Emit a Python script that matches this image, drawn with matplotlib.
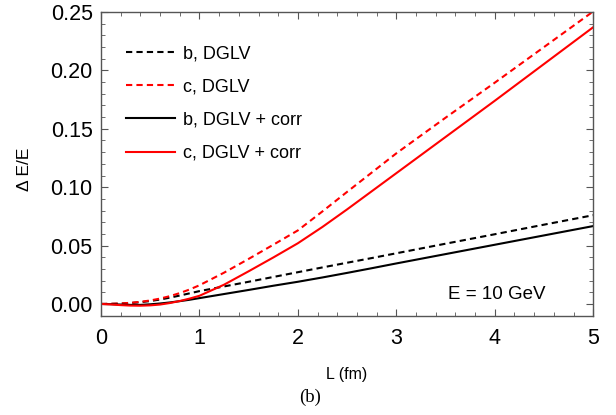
import matplotlib
matplotlib.use("Agg")
import matplotlib.pyplot as plt
from matplotlib.ticker import MultipleLocator, FormatStrFormatter

# L (fm)
L = [0.0, 0.1, 0.2, 0.3, 0.4, 0.5, 0.6, 0.7, 0.8, 0.9, 1.0, 1.25, 1.5, 1.75, 2.0, 2.25,
     2.5, 2.75, 3.0, 3.5, 4.0, 4.5, 5.0]

# Delta E / E
b_dglv = [0.0, 0.0001, 0.0003, 0.0008, 0.0015, 0.0025, 0.0038, 0.0054, 0.0072, 0.0091,
          0.0110, 0.0150, 0.0190, 0.0231, 0.0272, 0.0313, 0.0353, 0.0393, 0.0434, 0.0516,
          0.0597, 0.0679, 0.0760]
c_dglv = [0.0, 0.0001, 0.0004, 0.0010, 0.0018, 0.0030, 0.0046, 0.0067, 0.0093, 0.0124,
          0.0160, 0.0268, 0.0386, 0.0507, 0.0630, 0.0793, 0.0960, 0.1125, 0.1290, 0.1595,
          0.1895, 0.2200, 0.2505]
b_corr = [0.0, -0.0002, -0.0005, -0.0008, -0.0008, -0.0003, 0.0004, 0.0013, 0.0024, 0.0036,
          0.0050, 0.0085, 0.0120, 0.0156, 0.0190, 0.0227, 0.0266, 0.0306, 0.0347, 0.0427,
          0.0507, 0.0587, 0.0667]
c_corr = [0.0, -0.0004, -0.0010, -0.0014, -0.0015, -0.0012, -0.0005, 0.0008, 0.0025, 0.0046,
          0.0070, 0.0165, 0.0280, 0.0398, 0.0520, 0.0660, 0.0810, 0.0965, 0.1120, 0.1430,
          0.1740, 0.2055, 0.2370]

plt.rcParams["font.family"] = ["Liberation Sans", "DejaVu Sans"]

fig = plt.figure(figsize=(6.16, 4.15), dpi=100)
ax = fig.add_axes([0.164, 0.2386, 0.799, 0.7324])

lw = 1.5
ax.plot(L, b_dglv, color="black", lw=lw, dashes=(3, 2), label="b, DGLV")
ax.plot(L, c_dglv, color="red", lw=lw, dashes=(3, 2), label="c, DGLV")
ax.plot(L, b_corr, color="black", lw=lw, label="b, DGLV + corr")
ax.plot(L, c_corr, color="red", lw=lw, label="c, DGLV + corr")

ax.set_xlim(0, 5)
ax.set_ylim(-0.0103, 0.25)

ax.xaxis.set_major_locator(MultipleLocator(1))
ax.xaxis.set_minor_locator(MultipleLocator(0.2))
ax.yaxis.set_major_locator(MultipleLocator(0.05))
ax.yaxis.set_minor_locator(MultipleLocator(0.01))
ax.yaxis.set_major_formatter(FormatStrFormatter("%.2f"))

frame = "#555555"
for s in ax.spines.values():
    s.set_color(frame)
    s.set_linewidth(1.0)
ax.tick_params(which="both", direction="in", top=True, right=True, colors=frame,
               labelcolor="black")
ax.tick_params(which="major", length=5, width=0.8, labelsize=15.5)
ax.tick_params(axis="x", which="major", pad=9)
ax.tick_params(axis="y", which="major", pad=6)
ax.tick_params(which="minor", length=2.8, width=0.6)

ax.set_xlabel("L (fm)", fontsize=11.5)
ax.xaxis.set_label_coords(0.498, -0.168)
ax.set_ylabel("Δ E/E", fontsize=12.5)
ax.yaxis.set_label_coords(-0.140, 0.484)

ax.legend(loc="upper left", bbox_to_anchor=(0.037, 0.915), frameon=False, fontsize=13,
          handlelength=2.7, handletextpad=0.45, labelspacing=0.9, borderaxespad=0)

ax.text(0.9024, 0.072, "E = 10 GeV", transform=ax.transAxes, ha="right", va="center",
        fontsize=13.5)

fig.text(0.503, 0.043, "(b)", ha="center", va="center", fontsize=13.5,
         family=["Liberation Serif", "DejaVu Serif"])

fig.savefig("out.png", dpi=100)
